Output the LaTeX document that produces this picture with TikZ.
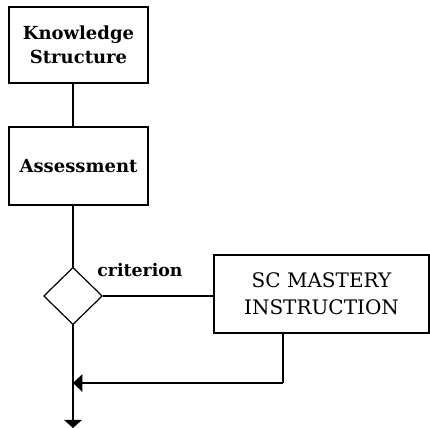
\documentclass[tikz,border=0pt]{standalone}
\usepackage{fontspec}
\setmainfont{DejaVu Serif}
\usetikzlibrary{shapes.geometric,arrows.meta}

\tikzset{
  blk/.style={draw,line width=1.6pt,align=center,font=\bfseries\fontsize{13.5}{18}\selectfont},
  dec/.style={draw,diamond,line width=0.9pt,inner sep=0pt,minimum width=44pt,minimum height=43pt},
  flow/.style={line width=1.5pt}
}

\begin{document}
\begin{tikzpicture}[x=0.75pt,y=-0.75pt]
   \useasboundingbox (0,0) rectangle (430,428);
   \node[blk,minimum width=104pt,minimum height=57pt] (ks) at (78.5,45) {Knowledge\\Structure};
   \node[blk,minimum width=104pt,minimum height=58.5pt] (as) at (78.5,166) {Assessment};
   \node[dec] (crit) at (73,296) {};
   \node[blk,font=\fontsize{15}{20}\selectfont,minimum width=161pt,minimum height=58.5pt] (sc) at (321.5,294) {SC MASTERY\\INSTRUCTION};
   \node[font=\bfseries\fontsize{13}{15}\selectfont] (lbl) at (140,270) {criterion};
   \coordinate (ret) at (73,383);
   \coordinate (fb) at (283,383);
   \coordinate (out) at (73,428);

   \path[flow] (ks.south -| crit) edge (as.north -| crit);
   \path[flow] (as.south -| crit) edge (crit.north);
   \path[flow] (crit.east) edge (sc.west |- crit.east);
   \path[flow] (sc.south -| fb) edge (fb);
   \path[flow,-{Triangle[width=13pt,length=7pt]}] (fb) edge (ret);
   \path[flow,-{Triangle[width=13pt,length=6pt]}] (crit.south) edge (out);

\end{tikzpicture}
\end{document}
